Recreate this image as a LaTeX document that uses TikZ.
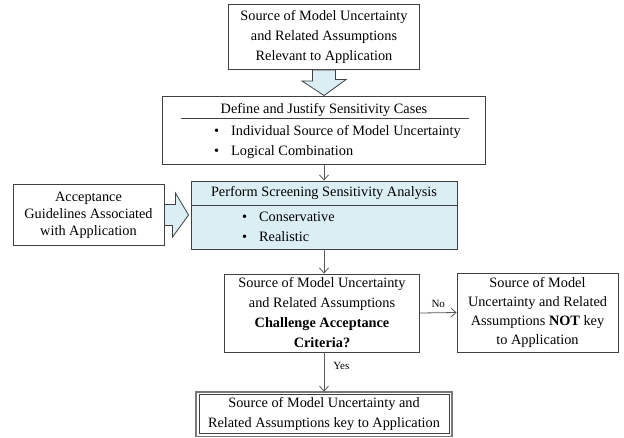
\documentclass[tikz,border=0pt]{standalone}
\usepackage{fontspec}
\setmainfont{Liberation Serif}
\usepackage{tikz}
\usetikzlibrary{arrows.meta, calc}
\definecolor{fondoAzul}{HTML}{DBEEF4}
\definecolor{bordeGris}{HTML}{404040}

\begin{document}
\begin{tikzpicture}[x=1pt, y=-1pt,
        caja/.style={draw=bordeGris, line width=0.9pt, inner sep=0pt, align=center,
            font=\fontsize{14.3}{20}\selectfont},
        texto/.style={inner sep=0pt, font=\fontsize{14.3}{20}\selectfont},
        lista/.style={texto, align=left, anchor=west},
        bloque/.style={draw=bordeGris, fill=fondoAzul, line width=0.8pt, line join=miter},
        rel/.style={-{Straight Barb[length=5pt, width=9pt]}, draw=black!65, line width=0.8pt},
        etiq/.style={inner sep=1pt, font=\fontsize{11}{13}\selectfont}
    ]
        \useasboundingbox (0,0) rectangle (624,437);
        \node[caja, minimum width=191pt, minimum height=65pt] (fuente) at (324,37)
            {Source of Model Uncertainty\\and Related Assumptions\\Relevant to Application};
        \node[caja, minimum width=323pt, minimum height=68pt] (casos) at (324,130) {};
        \node[texto] (casosT) at (324,110) {Define and Justify Sensitivity Cases};
        \draw[bordeGris, line width=0.8pt] (181,118) -- (469,118);
        \node[lista] (casosL) at (214,142)
            {\textbullet\hspace{12pt}Individual Source of Model Uncertainty\\
             \textbullet\hspace{12pt}Logical Combination};
        \node[caja, fill=fondoAzul, minimum width=266pt, minimum height=68pt] (analisis) at (324,215) {};
        \node[texto] (analisisT) at (324,193) {Perform Screening Sensitivity Analysis};
        \draw[bordeGris, line width=0.8pt] (191,205) -- (457,205);
        \node[lista] (analisisL) at (242,226.5)
            {\textbullet\hspace{12pt}Conservative\\
             \textbullet\hspace{12pt}Realistic};
        \node[caja, minimum width=151pt, minimum height=61pt, font=\fontsize{14.3}{17}\selectfont] (acepta) at (88.5,215)
            {Acceptance\\Guidelines Associated\\with Application};
        \node[caja, minimum width=195pt, minimum height=78pt] (decision) at (322,313)
            {Source of Model Uncertainty\\and Related Assumptions\\\textbf{Challenge Acceptance}\\\textbf{Criteria?}};
        \node[caja, minimum width=161pt, minimum height=79pt, font=\fontsize{14.3}{19}\selectfont] (noclave) at (537.5,312.5)
            {Source of Model\\Uncertainty and Related\\Assumptions \textbf{NOT} key\\to Application};
        \node[caja, line width=0.8pt, minimum width=250pt, minimum height=39pt] (clave) at (324,414)
            {Source of Model Uncertainty and\\Related Assumptions key to Application};
        \draw[bordeGris!70, line width=1.6pt] ($(clave.south west)+(-2.4,2.4)$) rectangle ($(clave.north east)+(2.4,-2.4)$);
        \draw[bloque] ($(fuente.south)+(-11.5,0)$) -- ++(0,11) -- ++(-10.5,0) -- (casos.north)
            -- ++(22,-16) -- ++(-10.5,0) -- ($(fuente.south)+(11.5,0)$) -- cycle;
        \draw[bloque] ($(acepta.east)+(0,-10.5)$) -- ++(11,0) -- ++(0,-11.5) -- ($(analisis.west)+(-2,0)$)
            -- ++(-16,22) -- ++(0,-11.5) -- ($(acepta.east)+(0,10.5)$) -- cycle;
        \draw[rel] (casos.south) -- (analisis.north);
        \draw[rel] (analisis.south) -- (analisis.south |- decision.north);
        \draw[rel] (decision.east) -- node[etiq, above=4pt] (no) {No} (noclave.west);
        \draw[rel] (decision.south -| clave.north) -- node[etiq, right=8pt, pos=0.35] (si) {Yes} ($(clave.north)+(0,-2.4)$);
    \end{tikzpicture}
\end{document}
